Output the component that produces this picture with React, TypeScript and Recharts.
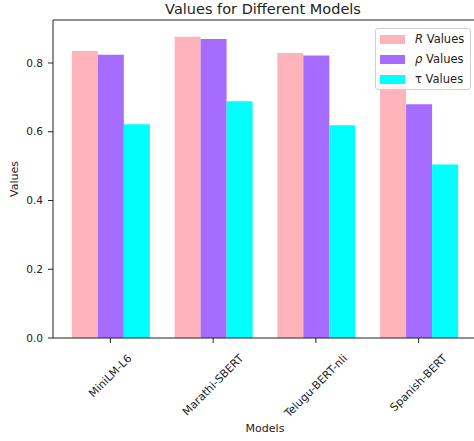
import React from 'react';
import { BarChart, Bar, XAxis, YAxis, Legend, ReferenceLine, Label } from 'recharts';

const models = ['MiniLM-L6', 'Marathi-SBERT', 'Telugu-BERT-nli', 'Spanish-BERT'];
const rValues = [0.835, 0.876, 0.829, 0.78];
const rhoValues = [0.824, 0.87, 0.822, 0.68];
const tauValues = [0.622, 0.689, 0.619, 0.505];
const yTicks = [0, 0.2, 0.4, 0.6, 0.8];

const data = models.map((m, i) => ({ model: m, r: rValues[i], rho: rhoValues[i], tau: tauValues[i] }));

const FONT = "'DejaVu Sans', sans-serif";
const FS = 10.6;
const XFS = 11;
const TXT = '#222';

let ctx: CanvasRenderingContext2D | null = null;
function measure(s: string): number {
  if (!ctx) {
    const c = document.createElement('canvas');
    ctx = c.getContext('2d');
  }
  if (!ctx) return s.length * 6.5;
  ctx.font = `${XFS}px 'DejaVu Sans'`;
  return ctx.measureText(s).width;
}

const XTick = (props: any) => {
  const { x, y, payload } = props;
  const label = String(payload.value);
  const L = measure(label);
  const h = XFS * 0.9;
  const c = Math.SQRT1_2;
  const boxH = (L + h) * c;
  const cy = y + 8 + boxH / 2;
  return (
    <g transform={`translate(${x},${cy}) rotate(-45)`}>
      <text textAnchor="middle" dominantBaseline="central" fontSize={XFS} fontFamily={FONT} fill={TXT}>
        {label}
      </text>
    </g>
  );
};

const legendItems = [
  { color: '#FFB3BA', sym: 'R', italic: true },
  { color: '#A66CFF', sym: 'ρ', italic: true },
  { color: '#00FFFF', sym: 'τ', italic: false },
];

const LegendBox = () => (
  <div
    style={{
      border: '1px solid #d0d0d0',
      borderRadius: 3,
      background: 'rgba(255,255,255,0.85)',
      padding: '0 4px 0 4px',
      fontFamily: FONT,
      fontSize: 11.5,
      color: TXT,
      width: 86,
      boxSizing: 'content-box',
    }}
  >
    {legendItems.map((it) => (
      <div key={it.sym} style={{ display: 'flex', alignItems: 'center', height: 20, whiteSpace: 'nowrap' }}>
        <div style={{ width: 25, height: 9, background: it.color, marginRight: 10, flex: 'none' }} />
        <span>
          <span style={{ fontStyle: it.italic ? 'italic' : 'normal' }}>{it.sym}</span> Values
        </span>
      </div>
    ))}
  </div>
);

export default function App() {
  return (
    <div style={{ position: 'absolute', left: 0, top: 0, width: 474, height: 441, overflow: 'hidden', background: '#fff' }}>
      <div
        style={{
          position: 'absolute',
          left: 53,
          width: 420,
          top: 1,
          textAlign: 'center',
          fontFamily: FONT,
          fontSize: 14.5,
          color: TXT,
          whiteSpace: 'nowrap',
        }}
      >
        Values for Different Models
      </div>
      <BarChart
        width={494}
        height={441}
        data={data}
        margin={{ top: 20, right: 17, bottom: 0, left: 0 }}
        barCategoryGap="12.5%"
        barGap={0}
      >
        <XAxis
          dataKey="model"
          height={103}
          tick={<XTick />}
          tickSize={5}
          tickLine={{ stroke: '#222' }}
          axisLine={{ stroke: '#222' }}
          padding={{ left: 6, right: 7 }}
          interval={0}
        >
          <Label value="Models" position="insideBottom" offset={9} style={{ fontFamily: FONT, fontSize: 11, fill: TXT }} />
        </XAxis>
        <YAxis
          width={53}
          domain={[0, 0.925]}
          ticks={yTicks}
          tickFormatter={(v: number) => v.toFixed(1)}
          tick={{ fontFamily: FONT, fontSize: FS, fill: TXT }}
          tickSize={5}
          tickMargin={5}
          tickLine={{ stroke: '#222' }}
          axisLine={{ stroke: '#222' }}
          allowDataOverflow
        >
          <Label value="Values" angle={-90} position="insideLeft" offset={14} style={{ fontFamily: FONT, fontSize: 11, fill: TXT, textAnchor: 'middle' }} />
        </YAxis>
        <ReferenceLine y={0.925} stroke="#222" ifOverflow="extendDomain" />
        <Bar dataKey="r" fill="#FFB3BA" isAnimationActive={false} />
        <Bar dataKey="rho" fill="#A66CFF" isAnimationActive={false} />
        <Bar dataKey="tau" fill="#00FFFF" isAnimationActive={false} />
        <Legend
          layout="vertical"
          align="center"
          verticalAlign="middle"
          content={() => <LegendBox />}
          wrapperStyle={{ position: 'absolute', left: 375, top: 28, width: 'auto', height: 'auto' }}
        />
      </BarChart>
    </div>
  );
}
